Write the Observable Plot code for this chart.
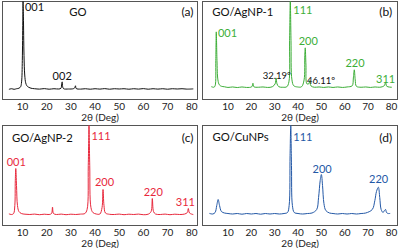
<!DOCTYPE html>
<html>
<head>
<meta charset="utf-8">
<script src="https://cdn.jsdelivr.net/npm/d3@7"></script>
<script src="https://cdn.jsdelivr.net/npm/@observablehq/plot@0.6"></script>
<style>
  body { margin: 0; background: #fff; }
  #wrap { position: relative; width: 400px; height: 248px; overflow: hidden; }
  #wrap > div, #wrap > svg { position: absolute; }
</style>
</head>
<body>
<div id="wrap"></div>
<script>
// ---- data ----
const xTicks = [10, 20, 30, 40, 50, 60, 70, 80];

const goPattern = [[4.5,10.5],[5.5,11],[6.5,10.4],[7.5,11],[8.5,11.5],[9.2,13],[9.6,18],[9.9,40],[10.1,80],[10.2,100],[10.35,85],[10.6,45],[10.9,25],[11.3,17],[11.8,14],[12.5,12.5],[13.5,11.5],[15,11],[17,10.6],[19,11.1],[21,10.5],[23,11],[25,10.7],[25.9,11.5],[26.2,16],[26.4,18],[26.6,13],[27,11],[29,10.7],[31,11],[31.6,12],[31.9,14],[32.2,11.2],[34,10.6],[36,11],[38,10.5],[40,11],[42,10.6],[44,11.1],[46,10.5],[48,11],[50,10.7],[52,11],[54,10.5],[56,11],[58,10.6],[60,11.1],[62,10.5],[64,11],[66,10.6],[68,11],[70,10.5],[72,11],[74,10.7],[76,11],[78,10.6],[80.5,10.8]];

const ag1Pattern = [[3,13],[4,12.5],[4.5,14],[4.8,40],[5.0,69],[5.3,40],[5.7,20],[6.3,15],[7.2,13.5],[8.5,13],[10,12.3],[12,12.8],[14,12.2],[16,12.8],[18,12.3],[20.2,13],[20.7,16.6],[21.1,13],[23,12.5],[25,12.8],[27,12.3],[29,13],[30.2,16],[30.6,22],[31,16],[31.8,13],[33.5,12.5],[35.2,13],[36.1,18],[36.4,60],[36.7,100],[37,60],[37.4,20],[38.2,14],[39.8,12.8],[41.5,13],[42.6,20],[42.9,45],[43.1,52.7],[43.4,35],[43.8,16],[44.6,16],[45.1,19.4],[45.5,14],[47,12.5],[49,12.8],[51,12.3],[53,12.8],[55,12.3],[57,12.8],[59,12.3],[61,12.8],[63.2,14],[63.7,22],[64.1,30.3],[64.5,20],[65,13.5],[67,12.5],[69,12.8],[71,12.3],[73,12.8],[75,12.5],[76.9,14],[77.5,17.7],[78,13.5],[80,12.5]];

const ag2Pattern = [[4.5,11.5],[5.5,11],[6.3,12],[6.8,20],[7.0,45],[7.2,57],[7.5,40],[7.9,20],[8.5,14],[9.5,12],[11,11.3],[13,11],[15,11.4],[17,10.8],[19,11.3],[21,11],[22,12],[22.4,18.3],[22.8,12],[24,11],[26,11.4],[28,10.8],[30,11.3],[32,11],[34,11.4],[35.8,12],[36.7,16],[37.2,60],[37.5,100],[37.8,60],[38.3,18],[39.1,13],[40.5,11.5],[42,11.5],[42.9,18],[43.3,36],[43.7,20],[44.3,12.5],[46,11.2],[48,11],[50,11.4],[52,10.8],[54,11.3],[56,11],[58,11.4],[60,10.8],[62,11.3],[63.2,14],[63.7,27],[64.2,14],[65,11.5],[67,11],[69,11.4],[71,10.8],[73,11.3],[75,11],[77,11.4],[78.2,13],[78.6,17],[79.1,12.5],[80.5,11]];

const cuPattern = [[2.2,12],[3.5,11.5],[4.5,13],[5.2,20],[5.8,26],[6.4,20],[7.2,14],[8.5,12.5],[10,12],[12,11.5],[14,12],[16,11.3],[18,12],[20,11.5],[22,12],[24,11.3],[26,12],[28,11.5],[30,12],[32,11.5],[34,12],[35.5,13],[36.2,20],[36.6,70],[36.9,100],[37.2,60],[37.6,20],[38.4,13],[40,12],[42,11.5],[44,12],[46,12.5],[48,16],[48.8,28],[49.5,45],[50,51],[50.5,40],[51.1,22],[51.9,15],[53.5,12.5],[55,12],[57,11.5],[59,12],[61,11.5],[63,12],[65,11.5],[67,12],[69,12.5],[71.8,16],[72.9,25],[73.6,34],[74.4,38.3],[75,28],[75.6,16],[76.4,13],[77,15],[77.5,16],[77.9,13],[78.6,12],[79.3,12]];

// peak labels: [x, y, text, anchor, colored?]
const goLabels = [[11.0,94,"001","start",true],[26.4,24,"002","middle",true]];
const ag1Labels = [[5.7,67,"001","start",true],[38,91,"111","start",true],[44.4,59.5,"200","middle",true],[30.9,24.5,"32.19º","middle",false],[49.9,19.4,"46.11º","middle",false],[64.4,36.4,"220","middle",true],[77.5,20.5,"311","middle",true]];
const ag2Labels = [[7.4,62.7,"001","middle",true],[38.5,89.3,"111","start",true],[43.9,42.7,"200","middle",true],[64.1,32.7,"220","middle",true],[77.4,22.7,"311","middle",true]];
const cuLabels = [[38,87.7,"111","start",true],[50.3,56,"200","middle",true],[74.5,46,"220","middle",true]];

const sampleNames = ["GO", "GO/AgNP-1", "GO/AgNP-2", "GO/CuNPs"];
const panelTags = ["(a)", "(b)", "(c)", "(d)"];
const axisTitle = "2θ (Deg)";

// ---- drawing ----
const leftDomain = [1.7, 82.4];
const rightDomain = [-0.9, 82.6];
const panels = [
  {pattern: goPattern, labels: goLabels, color: "#111111", name: sampleNames[0], nameX: 29.3, nameY: 89, tag: panelTags[0], tagX: 80.7, domain: leftDomain, left: 0, top: 0, mb: 25},
  {pattern: ag1Pattern, labels: ag1Labels, color: "#3cae37", name: sampleNames[1], nameX: 3.3, nameY: 89, tag: panelTags[1], tagX: 80.3, domain: rightDomain, left: 200, top: 0, mb: 25},
  {pattern: ag2Pattern, labels: ag2Labels, color: "#e8283c", name: sampleNames[2], nameX: 5.6, nameY: 87, tag: panelTags[2], tagX: 80.7, domain: leftDomain, left: 0, top: 124, mb: 23},
  {pattern: cuPattern, labels: cuLabels, color: "#2358a6", name: sampleNames[3], nameX: 3.4, nameY: 87.7, tag: panelTags[3], tagX: 80.3, domain: rightDomain, left: 200, top: 124, mb: 23}
];

const wrap = document.getElementById("wrap");
const font = "Lato, 'Open Sans', sans-serif";

function labelMark(p, anchor) {
  return Plot.text(p.labels.filter(d => d[3] === anchor), {
    x: d => d[0], y: d => d[1], text: d => d[2],
    textAnchor: anchor,
    fill: d => d[4] ? p.color : "#111",
    fontSize: d => d[4] ? 11 : 9.5
  });
}

for (const p of panels) {
  const chart = Plot.plot({
    width: 200,
    height: 124,
    marginLeft: 2,
    marginRight: 3,
    marginTop: 1,
    marginBottom: p.mb,
    style: {fontFamily: font, fontSize: "10px", color: "#222", background: "transparent"},
    x: {domain: p.domain, ticks: xTicks, tickSize: 0, tickPadding: 3, label: axisTitle, labelAnchor: "center", labelArrow: "none", labelOffset: 21},
    y: {domain: [0, 100], axis: null},
    marks: [
      Plot.frame({stroke: "#555", strokeWidth: 1}),
      Plot.line(p.pattern, {x: d => d[0], y: d => d[1], stroke: p.color, strokeWidth: 1, curve: "catmull-rom"}),
      labelMark(p, "start"),
      labelMark(p, "middle"),
      Plot.text([p.name], {x: p.nameX, y: p.nameY, text: d => d, textAnchor: "start", fill: "#111", fontSize: 11.3}),
      Plot.text([p.tag], {x: p.tagX, y: p.nameY, text: d => d, textAnchor: "end", fill: "#111", fontSize: 12})
    ]
  });
  chart.style.left = p.left + "px";
  chart.style.top = p.top + "px";
  wrap.appendChild(chart);
}
</script>
</body>
</html>
